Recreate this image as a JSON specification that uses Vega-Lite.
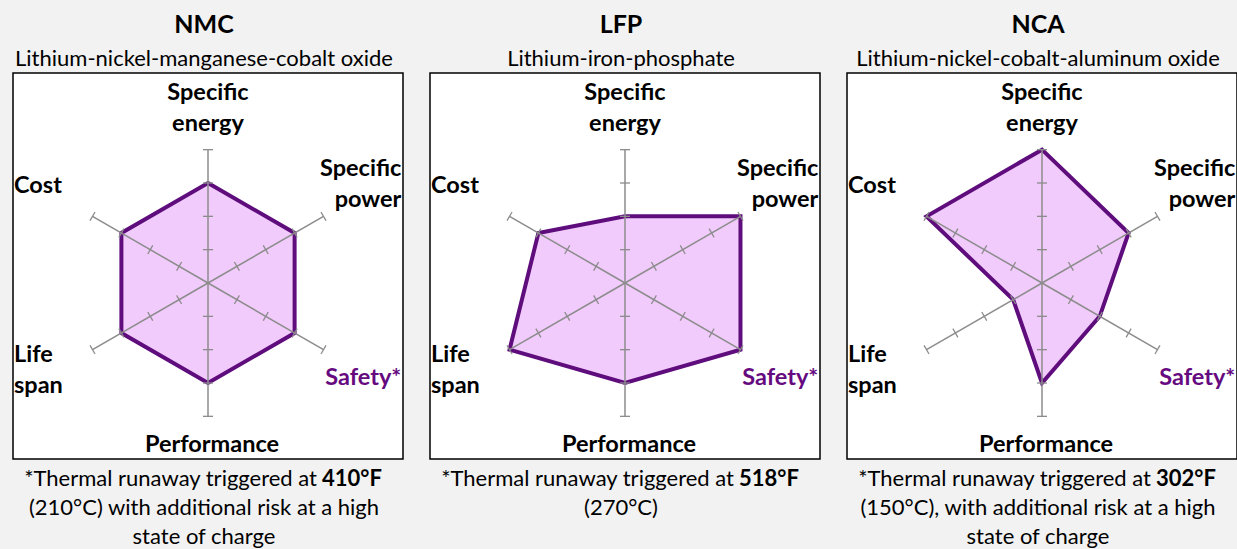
{
  "$schema": "https://vega.github.io/schema/vega-lite/v6.json",
  "background": "#f2f2f2",
  "padding": {"left": 12, "top": 12, "right": 0, "bottom": 0},
  "spacing": 25,
  "config": {
    "view": {"fill": "white", "stroke": "black", "strokeWidth": 1.5},
    "font": "Lato",
    "text": {"font": "Lato", "color": "black"}
  },
  "datasets": {
    "ticks": [
      {"axis": "Specific energy", "r": 1}, {"axis": "Specific energy", "r": 2}, {"axis": "Specific energy", "r": 3}, {"axis": "Specific energy", "r": 4},
      {"axis": "Specific power", "r": 1}, {"axis": "Specific power", "r": 2}, {"axis": "Specific power", "r": 3}, {"axis": "Specific power", "r": 4},
      {"axis": "Safety", "r": 1}, {"axis": "Safety", "r": 2}, {"axis": "Safety", "r": 3}, {"axis": "Safety", "r": 4},
      {"axis": "Performance", "r": 1}, {"axis": "Performance", "r": 2}, {"axis": "Performance", "r": 3}, {"axis": "Performance", "r": 4},
      {"axis": "Life span", "r": 1}, {"axis": "Life span", "r": 2}, {"axis": "Life span", "r": 3}, {"axis": "Life span", "r": 4},
      {"axis": "Cost", "r": 1}, {"axis": "Cost", "r": 2}, {"axis": "Cost", "r": 3}, {"axis": "Cost", "r": 4}
    ],
    "scores": [
      {"chem": "NMC", "axis": "Specific energy", "value": 3},
      {"chem": "NMC", "axis": "Specific power", "value": 3},
      {"chem": "NMC", "axis": "Safety", "value": 3},
      {"chem": "NMC", "axis": "Performance", "value": 3},
      {"chem": "NMC", "axis": "Life span", "value": 3},
      {"chem": "NMC", "axis": "Cost", "value": 3},
      {"chem": "LFP", "axis": "Specific energy", "value": 2},
      {"chem": "LFP", "axis": "Specific power", "value": 4},
      {"chem": "LFP", "axis": "Safety", "value": 4},
      {"chem": "LFP", "axis": "Performance", "value": 3},
      {"chem": "LFP", "axis": "Life span", "value": 4},
      {"chem": "LFP", "axis": "Cost", "value": 3},
      {"chem": "NCA", "axis": "Specific energy", "value": 4},
      {"chem": "NCA", "axis": "Specific power", "value": 3},
      {"chem": "NCA", "axis": "Safety", "value": 2},
      {"chem": "NCA", "axis": "Performance", "value": 3},
      {"chem": "NCA", "axis": "Life span", "value": 1},
      {"chem": "NCA", "axis": "Cost", "value": 4}
    ]
  },
  "hconcat": [
    {
      "width": 390, "height": 386,
      "layer": [
        {
          "data": {"name": "scores"},
          "transform": [
            {"filter": "datum.chem == 'NMC'"},
            {"calculate": "indexof(['Specific energy','Specific power','Safety','Performance','Life span','Cost'], datum.axis)", "as": "k"},
            {"calculate": "PI/2 - datum.k*PI/3", "as": "a"},
            {"calculate": "datum.value*cos(datum.a)", "as": "x"},
            {"calculate": "datum.value*sin(datum.a)", "as": "y"}
          ],
          "mark": {"type": "line", "interpolate": "linear-closed", "fill": "#f1cbfb", "stroke": "#5f0d7d", "strokeWidth": 4, "strokeJoin": "miter"},
          "encoding": {
            "x": {"field": "x", "type": "quantitative", "scale": {"domain": [-5.85, 5.85], "nice": false, "zero": false}, "axis": null},
            "y": {"field": "y", "type": "quantitative", "scale": {"domain": [-5.28, 6.3], "nice": false, "zero": false}, "axis": null},
            "order": {"field": "k", "type": "quantitative"}
          }
        },
        {
          "data": {"name": "ticks"},
          "transform": [
            {"filter": "datum.r == 4"},
            {"calculate": "indexof(['Specific energy','Specific power','Safety','Performance','Life span','Cost'], datum.axis)", "as": "k"},
            {"calculate": "PI/2 - datum.k*PI/3", "as": "a"},
            {"calculate": "datum.r*cos(datum.a)", "as": "x"},
            {"calculate": "datum.r*sin(datum.a)", "as": "y"}
          ],
          "mark": {"type": "rule", "color": "#8c8c8c", "strokeWidth": 1.5},
          "encoding": {
            "x": {"field": "x", "type": "quantitative", "axis": null},
            "y": {"field": "y", "type": "quantitative", "axis": null},
            "x2": {"datum": 0},
            "y2": {"datum": 0}
          }
        },
        {
          "data": {"name": "ticks"},
          "transform": [
            {"calculate": "indexof(['Specific energy','Specific power','Safety','Performance','Life span','Cost'], datum.axis)", "as": "k"},
            {"calculate": "PI/2 - datum.k*PI/3", "as": "a"},
            {"calculate": "datum.r*cos(datum.a) - 0.15*sin(datum.a)", "as": "x1"},
            {"calculate": "datum.r*sin(datum.a) + 0.15*cos(datum.a)", "as": "y1"},
            {"calculate": "datum.r*cos(datum.a) + 0.15*sin(datum.a)", "as": "x2"},
            {"calculate": "datum.r*sin(datum.a) - 0.15*cos(datum.a)", "as": "y2"}
          ],
          "mark": {"type": "rule", "color": "#8c8c8c", "strokeWidth": 1.3},
          "encoding": {
            "x": {"field": "x1", "type": "quantitative", "axis": null},
            "y": {"field": "y1", "type": "quantitative", "axis": null},
            "x2": {"field": "x2"},
            "y2": {"field": "y2"}
          }
        },
        {"data": {"values": [{"t": "Specific\nenergy"}]}, "mark": {"type": "text", "fontSize": 23.5, "fontWeight": "bold", "lineBreak": "\n", "lineHeight": 31, "align": "center", "baseline": "middle"}, "encoding": {"x": {"datum": 0}, "y": {"datum": 5.7}, "text": {"field": "t"}}},
        {"data": {"values": [{"t": "Specific\npower"}]}, "mark": {"type": "text", "fontSize": 23.5, "fontWeight": "bold", "lineBreak": "\n", "lineHeight": 31, "align": "right", "baseline": "middle"}, "encoding": {"x": {"datum": 5.8}, "y": {"datum": 3.42}, "text": {"field": "t"}}},
        {"data": {"values": [{"t": "Safety*"}]}, "mark": {"type": "text", "fontSize": 23.5, "fontWeight": "bold", "align": "right", "baseline": "middle", "color": "#660a80"}, "encoding": {"x": {"datum": 5.8}, "y": {"datum": -2.86}, "text": {"field": "t"}}},
        {"data": {"values": [{"t": "Performance"}]}, "mark": {"type": "text", "fontSize": 23.5, "fontWeight": "bold", "align": "center", "baseline": "middle"}, "encoding": {"x": {"datum": 0.12}, "y": {"datum": -4.87}, "text": {"field": "t"}}},
        {"data": {"values": [{"t": "Life\nspan"}]}, "mark": {"type": "text", "fontSize": 23.5, "fontWeight": "bold", "lineBreak": "\n", "lineHeight": 31, "align": "left", "baseline": "middle"}, "encoding": {"x": {"datum": -5.82}, "y": {"datum": -2.16}, "text": {"field": "t"}}},
        {"data": {"values": [{"t": "Cost"}]}, "mark": {"type": "text", "fontSize": 23.5, "fontWeight": "bold", "align": "left", "baseline": "middle"}, "encoding": {"x": {"datum": -5.82}, "y": {"datum": 2.92}, "text": {"field": "t"}}},
        {"data": {"values": [{"t": "NMC"}]}, "mark": {"type": "text", "fontSize": 25, "fontWeight": "bold", "align": "center", "baseline": "middle"}, "encoding": {"x": {"datum": -0.12}, "y": {"datum": 7.74}, "text": {"field": "t"}}},
        {"data": {"values": [{"t": "Lithium-nickel-manganese-cobalt oxide"}]}, "mark": {"type": "text", "fontSize": 22, "align": "center", "baseline": "middle"}, "encoding": {"x": {"datum": -0.12}, "y": {"datum": 6.72}, "text": {"field": "t"}}},
        {"data": {"values": [{"t": "*Thermal runaway triggered at"}]}, "mark": {"type": "text", "fontSize": 22, "align": "right", "baseline": "middle"}, "encoding": {"x": {"datum": 3.27}, "y": {"datum": -5.88}, "text": {"field": "t"}}},
        {"data": {"values": [{"t": "410°F"}]}, "mark": {"type": "text", "fontSize": 22, "fontWeight": "bold", "align": "left", "baseline": "middle", "dx": 5}, "encoding": {"x": {"datum": 3.27}, "y": {"datum": -5.88}, "text": {"field": "t"}}},
        {"data": {"values": [{"t": "(210°C) with additional risk at a high\nstate of charge"}]}, "mark": {"type": "text", "fontSize": 22, "lineBreak": "\n", "lineHeight": 29, "align": "center", "baseline": "middle"}, "encoding": {"x": {"datum": -0.12}, "y": {"datum": -6.76}, "text": {"field": "t"}}}
      ]
    },
    {
      "width": 390, "height": 386,
      "layer": [
        {
          "data": {"name": "scores"},
          "transform": [
            {"filter": "datum.chem == 'LFP'"},
            {"calculate": "indexof(['Specific energy','Specific power','Safety','Performance','Life span','Cost'], datum.axis)", "as": "k"},
            {"calculate": "PI/2 - datum.k*PI/3", "as": "a"},
            {"calculate": "datum.value*cos(datum.a)", "as": "x"},
            {"calculate": "datum.value*sin(datum.a)", "as": "y"}
          ],
          "mark": {"type": "line", "interpolate": "linear-closed", "fill": "#f1cbfb", "stroke": "#5f0d7d", "strokeWidth": 4, "strokeJoin": "miter"},
          "encoding": {
            "x": {"field": "x", "type": "quantitative", "scale": {"domain": [-5.85, 5.85], "nice": false, "zero": false}, "axis": null},
            "y": {"field": "y", "type": "quantitative", "scale": {"domain": [-5.28, 6.3], "nice": false, "zero": false}, "axis": null},
            "order": {"field": "k", "type": "quantitative"}
          }
        },
        {
          "data": {"name": "ticks"},
          "transform": [
            {"filter": "datum.r == 4"},
            {"calculate": "indexof(['Specific energy','Specific power','Safety','Performance','Life span','Cost'], datum.axis)", "as": "k"},
            {"calculate": "PI/2 - datum.k*PI/3", "as": "a"},
            {"calculate": "datum.r*cos(datum.a)", "as": "x"},
            {"calculate": "datum.r*sin(datum.a)", "as": "y"}
          ],
          "mark": {"type": "rule", "color": "#8c8c8c", "strokeWidth": 1.5},
          "encoding": {
            "x": {"field": "x", "type": "quantitative", "axis": null},
            "y": {"field": "y", "type": "quantitative", "axis": null},
            "x2": {"datum": 0},
            "y2": {"datum": 0}
          }
        },
        {
          "data": {"name": "ticks"},
          "transform": [
            {"calculate": "indexof(['Specific energy','Specific power','Safety','Performance','Life span','Cost'], datum.axis)", "as": "k"},
            {"calculate": "PI/2 - datum.k*PI/3", "as": "a"},
            {"calculate": "datum.r*cos(datum.a) - 0.15*sin(datum.a)", "as": "x1"},
            {"calculate": "datum.r*sin(datum.a) + 0.15*cos(datum.a)", "as": "y1"},
            {"calculate": "datum.r*cos(datum.a) + 0.15*sin(datum.a)", "as": "x2"},
            {"calculate": "datum.r*sin(datum.a) - 0.15*cos(datum.a)", "as": "y2"}
          ],
          "mark": {"type": "rule", "color": "#8c8c8c", "strokeWidth": 1.3},
          "encoding": {
            "x": {"field": "x1", "type": "quantitative", "axis": null},
            "y": {"field": "y1", "type": "quantitative", "axis": null},
            "x2": {"field": "x2"},
            "y2": {"field": "y2"}
          }
        },
        {"data": {"values": [{"t": "Specific\nenergy"}]}, "mark": {"type": "text", "fontSize": 23.5, "fontWeight": "bold", "lineBreak": "\n", "lineHeight": 31, "align": "center", "baseline": "middle"}, "encoding": {"x": {"datum": 0}, "y": {"datum": 5.7}, "text": {"field": "t"}}},
        {"data": {"values": [{"t": "Specific\npower"}]}, "mark": {"type": "text", "fontSize": 23.5, "fontWeight": "bold", "lineBreak": "\n", "lineHeight": 31, "align": "right", "baseline": "middle"}, "encoding": {"x": {"datum": 5.8}, "y": {"datum": 3.42}, "text": {"field": "t"}}},
        {"data": {"values": [{"t": "Safety*"}]}, "mark": {"type": "text", "fontSize": 23.5, "fontWeight": "bold", "align": "right", "baseline": "middle", "color": "#660a80"}, "encoding": {"x": {"datum": 5.8}, "y": {"datum": -2.86}, "text": {"field": "t"}}},
        {"data": {"values": [{"t": "Performance"}]}, "mark": {"type": "text", "fontSize": 23.5, "fontWeight": "bold", "align": "center", "baseline": "middle"}, "encoding": {"x": {"datum": 0.12}, "y": {"datum": -4.87}, "text": {"field": "t"}}},
        {"data": {"values": [{"t": "Life\nspan"}]}, "mark": {"type": "text", "fontSize": 23.5, "fontWeight": "bold", "lineBreak": "\n", "lineHeight": 31, "align": "left", "baseline": "middle"}, "encoding": {"x": {"datum": -5.82}, "y": {"datum": -2.16}, "text": {"field": "t"}}},
        {"data": {"values": [{"t": "Cost"}]}, "mark": {"type": "text", "fontSize": 23.5, "fontWeight": "bold", "align": "left", "baseline": "middle"}, "encoding": {"x": {"datum": -5.82}, "y": {"datum": 2.92}, "text": {"field": "t"}}},
        {"data": {"values": [{"t": "LFP"}]}, "mark": {"type": "text", "fontSize": 25, "fontWeight": "bold", "align": "center", "baseline": "middle"}, "encoding": {"x": {"datum": -0.12}, "y": {"datum": 7.74}, "text": {"field": "t"}}},
        {"data": {"values": [{"t": "Lithium-iron-phosphate"}]}, "mark": {"type": "text", "fontSize": 22, "align": "center", "baseline": "middle"}, "encoding": {"x": {"datum": -0.12}, "y": {"datum": 6.72}, "text": {"field": "t"}}},
        {"data": {"values": [{"t": "*Thermal runaway triggered at"}]}, "mark": {"type": "text", "fontSize": 22, "align": "right", "baseline": "middle"}, "encoding": {"x": {"datum": 3.27}, "y": {"datum": -5.88}, "text": {"field": "t"}}},
        {"data": {"values": [{"t": "518°F"}]}, "mark": {"type": "text", "fontSize": 22, "fontWeight": "bold", "align": "left", "baseline": "middle", "dx": 5}, "encoding": {"x": {"datum": 3.27}, "y": {"datum": -5.88}, "text": {"field": "t"}}},
        {"data": {"values": [{"t": "(270°C)"}]}, "mark": {"type": "text", "fontSize": 22, "align": "center", "baseline": "middle"}, "encoding": {"x": {"datum": -0.12}, "y": {"datum": -6.76}, "text": {"field": "t"}}}
      ]
    },
    {
      "width": 390, "height": 386,
      "layer": [
        {
          "data": {"name": "scores"},
          "transform": [
            {"filter": "datum.chem == 'NCA'"},
            {"calculate": "indexof(['Specific energy','Specific power','Safety','Performance','Life span','Cost'], datum.axis)", "as": "k"},
            {"calculate": "PI/2 - datum.k*PI/3", "as": "a"},
            {"calculate": "datum.value*cos(datum.a)", "as": "x"},
            {"calculate": "datum.value*sin(datum.a)", "as": "y"}
          ],
          "mark": {"type": "line", "interpolate": "linear-closed", "fill": "#f1cbfb", "stroke": "#5f0d7d", "strokeWidth": 4, "strokeJoin": "miter"},
          "encoding": {
            "x": {"field": "x", "type": "quantitative", "scale": {"domain": [-5.85, 5.85], "nice": false, "zero": false}, "axis": null},
            "y": {"field": "y", "type": "quantitative", "scale": {"domain": [-5.28, 6.3], "nice": false, "zero": false}, "axis": null},
            "order": {"field": "k", "type": "quantitative"}
          }
        },
        {
          "data": {"name": "ticks"},
          "transform": [
            {"filter": "datum.r == 4"},
            {"calculate": "indexof(['Specific energy','Specific power','Safety','Performance','Life span','Cost'], datum.axis)", "as": "k"},
            {"calculate": "PI/2 - datum.k*PI/3", "as": "a"},
            {"calculate": "datum.r*cos(datum.a)", "as": "x"},
            {"calculate": "datum.r*sin(datum.a)", "as": "y"}
          ],
          "mark": {"type": "rule", "color": "#8c8c8c", "strokeWidth": 1.5},
          "encoding": {
            "x": {"field": "x", "type": "quantitative", "axis": null},
            "y": {"field": "y", "type": "quantitative", "axis": null},
            "x2": {"datum": 0},
            "y2": {"datum": 0}
          }
        },
        {
          "data": {"name": "ticks"},
          "transform": [
            {"calculate": "indexof(['Specific energy','Specific power','Safety','Performance','Life span','Cost'], datum.axis)", "as": "k"},
            {"calculate": "PI/2 - datum.k*PI/3", "as": "a"},
            {"calculate": "datum.r*cos(datum.a) - 0.15*sin(datum.a)", "as": "x1"},
            {"calculate": "datum.r*sin(datum.a) + 0.15*cos(datum.a)", "as": "y1"},
            {"calculate": "datum.r*cos(datum.a) + 0.15*sin(datum.a)", "as": "x2"},
            {"calculate": "datum.r*sin(datum.a) - 0.15*cos(datum.a)", "as": "y2"}
          ],
          "mark": {"type": "rule", "color": "#8c8c8c", "strokeWidth": 1.3},
          "encoding": {
            "x": {"field": "x1", "type": "quantitative", "axis": null},
            "y": {"field": "y1", "type": "quantitative", "axis": null},
            "x2": {"field": "x2"},
            "y2": {"field": "y2"}
          }
        },
        {"data": {"values": [{"t": "Specific\nenergy"}]}, "mark": {"type": "text", "fontSize": 23.5, "fontWeight": "bold", "lineBreak": "\n", "lineHeight": 31, "align": "center", "baseline": "middle"}, "encoding": {"x": {"datum": 0}, "y": {"datum": 5.7}, "text": {"field": "t"}}},
        {"data": {"values": [{"t": "Specific\npower"}]}, "mark": {"type": "text", "fontSize": 23.5, "fontWeight": "bold", "lineBreak": "\n", "lineHeight": 31, "align": "right", "baseline": "middle"}, "encoding": {"x": {"datum": 5.8}, "y": {"datum": 3.42}, "text": {"field": "t"}}},
        {"data": {"values": [{"t": "Safety*"}]}, "mark": {"type": "text", "fontSize": 23.5, "fontWeight": "bold", "align": "right", "baseline": "middle", "color": "#660a80"}, "encoding": {"x": {"datum": 5.8}, "y": {"datum": -2.86}, "text": {"field": "t"}}},
        {"data": {"values": [{"t": "Performance"}]}, "mark": {"type": "text", "fontSize": 23.5, "fontWeight": "bold", "align": "center", "baseline": "middle"}, "encoding": {"x": {"datum": 0.12}, "y": {"datum": -4.87}, "text": {"field": "t"}}},
        {"data": {"values": [{"t": "Life\nspan"}]}, "mark": {"type": "text", "fontSize": 23.5, "fontWeight": "bold", "lineBreak": "\n", "lineHeight": 31, "align": "left", "baseline": "middle"}, "encoding": {"x": {"datum": -5.82}, "y": {"datum": -2.16}, "text": {"field": "t"}}},
        {"data": {"values": [{"t": "Cost"}]}, "mark": {"type": "text", "fontSize": 23.5, "fontWeight": "bold", "align": "left", "baseline": "middle"}, "encoding": {"x": {"datum": -5.82}, "y": {"datum": 2.92}, "text": {"field": "t"}}},
        {"data": {"values": [{"t": "NCA"}]}, "mark": {"type": "text", "fontSize": 25, "fontWeight": "bold", "align": "center", "baseline": "middle"}, "encoding": {"x": {"datum": -0.12}, "y": {"datum": 7.74}, "text": {"field": "t"}}},
        {"data": {"values": [{"t": "Lithium-nickel-cobalt-aluminum oxide"}]}, "mark": {"type": "text", "fontSize": 22, "align": "center", "baseline": "middle"}, "encoding": {"x": {"datum": -0.12}, "y": {"datum": 6.72}, "text": {"field": "t"}}},
        {"data": {"values": [{"t": "*Thermal runaway triggered at"}]}, "mark": {"type": "text", "fontSize": 22, "align": "right", "baseline": "middle"}, "encoding": {"x": {"datum": 3.27}, "y": {"datum": -5.88}, "text": {"field": "t"}}},
        {"data": {"values": [{"t": "302°F"}]}, "mark": {"type": "text", "fontSize": 22, "fontWeight": "bold", "align": "left", "baseline": "middle", "dx": 5}, "encoding": {"x": {"datum": 3.27}, "y": {"datum": -5.88}, "text": {"field": "t"}}},
        {"data": {"values": [{"t": "(150°C), with additional risk at a high\nstate of charge"}]}, "mark": {"type": "text", "fontSize": 22, "lineBreak": "\n", "lineHeight": 29, "align": "center", "baseline": "middle"}, "encoding": {"x": {"datum": -0.12}, "y": {"datum": -6.76}, "text": {"field": "t"}}}
      ]
    }
  ]
}
